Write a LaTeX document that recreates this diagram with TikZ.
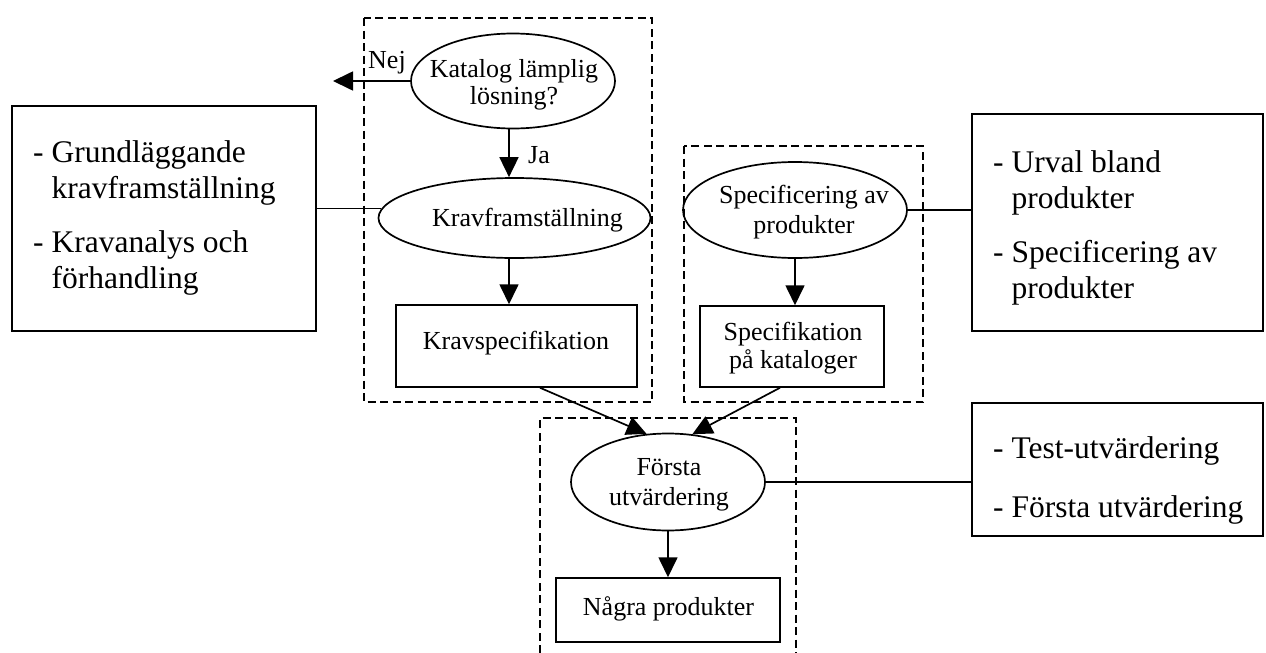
\documentclass[tikz,border=0pt]{standalone}
\usepackage{fontspec}
\setmainfont{Liberation Serif}
\usetikzlibrary{arrows.meta,calc,shapes.geometric}
\tikzset{
  sm/.style={font=\fontsize{26}{28.5}\selectfont,inner sep=0pt},
  lg/.style={font=\fontsize{31.5}{36}\selectfont,inner sep=0pt},
  ell/.style={draw,ellipse,line width=1.7pt,inner sep=0pt},
  bx/.style={draw,rectangle,line width=1.5pt,inner sep=0pt},
  dbox/.style={draw,line width=1.6pt,dash pattern=on 8pt off 4.5pt},
  arr/.style={line width=1.7pt,-{Triangle[length=20pt,width=19pt]}},
  ln/.style={line width=1.5pt}
}
\newcommand{\ctext}[1]{\begin{tabular}[t]{@{}c@{}}#1\end{tabular}}
\newcommand{\ltext}[1]{\begin{tabular}[t]{@{}l@{}}#1\end{tabular}}
\begin{document}
\begin{tikzpicture}[x=1pt,y=-1pt]
\useasboundingbox (0,0) rectangle (1266,653);
% dashed groups
\draw[dbox] (364,18) rectangle (652,402);
\draw[dbox] (684,146) rectangle (923,402);
\draw[dbox] (540,653) -- (540,418) -- (796,418) -- (796,653);
% shapes
\node[ell,minimum width=204pt,minimum height=95pt] (kat) at (513,81) {};
\node[ell,minimum width=272pt,minimum height=80pt] (kf) at (514.5,218) {};
\node[bx,minimum width=241pt,minimum height=82pt] (ks) at (516.5,346) {};
\node[ell,minimum width=224pt,minimum height=96pt] (sp) at (795,210) {};
\node[bx,minimum width=184pt,minimum height=81pt] (sk) at (792,346.5) {};
\node[ell,minimum width=194pt,minimum height=97pt] (fu) at (668,482) {};
\node[bx,minimum width=224pt,minimum height=64pt] (np) at (668,610) {};
\node[bx,minimum width=304pt,minimum height=225pt] (lb) at (164,218.5) {};
\node[bx,minimum width=291pt,minimum height=217pt] (rb) at (1117.5,222.5) {};
\node[bx,minimum width=291pt,minimum height=133pt] (rb2) at (1117.5,469.5) {};
% texts
\node[sm,anchor=base] (katt) at (514,77) {\ctext{Katalog lämplig\\[-1.5pt]lösning?}};
\node[sm,anchor=base] (kft) at (527.5,226) {Kravframställning};
\node[sm,anchor=base] (kst) at (516,349) {Kravspecifikation};
\node[sm,anchor=base] (spt) at (804,203) {\ctext{Specificering av\\[1.5pt]produkter}};
\node[sm,anchor=base] (skt) at (793,340) {\ctext{Specifikation\\på kataloger}};
\node[sm,anchor=base] (fut) at (669,475) {\ctext{Första\\[1.5pt]utvärdering}};
\node[sm,anchor=base] (npt) at (668.5,615) {Några produkter};
\node[lg,anchor=base west] (lbt) at (33,162)
  {\ltext{- Grundläggande\\\phantom{- }kravframställning\\[18pt]- Kravanalys och\\\phantom{- }förhandling}};
\node[lg,anchor=base west] (rbt) at (993,172)
  {\ltext{- Urval bland\\\phantom{- }produkter\\[18pt]- Specificering av\\\phantom{- }produkter}};
\node[lg,anchor=base west] (rb2t) at (993,458)
  {\ltext{- Test-utvärdering\\[23pt]- Första utvärdering}};
\coordinate (nejend) at (333,81);
\node[sm,anchor=base west] (nej) at (368,68) {Nej};
\node[sm,anchor=base west] (ja) at (528,163) {Ja};
% connectors
\draw[arr] (kat.west) -- (nejend);
\draw[arr] ([xshift=-4pt]kat.south) -- ([xshift=-4pt]kat.south |- kf.north);
\draw[arr] ([xshift=-5.5pt]kf.south) -- ([xshift=-5.5pt]kf.south |- ks.north);
\draw[arr] (sp.south) -- (sp.south |- sk.north);
\draw[arr] ([xshift=23.5pt]ks.south) -- (fu.114);
\draw[arr] ([xshift=-12pt]sk.south) -- (fu.63);
\draw[arr] (fu.south) -- (np.north);
\draw[ln] (lb.east |- kf.176.6) -- (kf.176.6);
\draw[ln] (sp.east) -- (rb.west |- sp.east);
\draw[ln] (fu.east) -- (rb2.west |- fu.east);
\end{tikzpicture}
\end{document}
